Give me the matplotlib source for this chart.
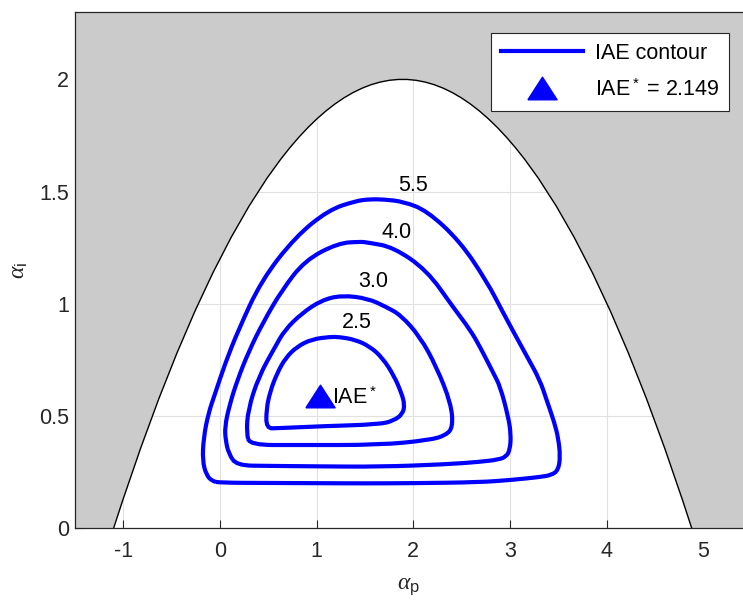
import numpy as np
import matplotlib
matplotlib.use("Agg")
import matplotlib.pyplot as plt
from matplotlib.path import Path
from matplotlib.patches import PathPatch
from matplotlib.lines import Line2D

plt.rcParams['font.family'] = ['Liberation Sans', 'DejaVu Sans']
plt.rcParams['axes.unicode_minus'] = False
plt.rcParams['mathtext.fontset'] = 'custom'
plt.rcParams['mathtext.rm'] = 'Liberation Sans'
plt.rcParams['mathtext.sf'] = 'Liberation Sans'
plt.rcParams['mathtext.it'] = 'Liberation Serif:italic'

# stability boundary: a parabola through the two roots with its apex height
bound_roots = [-1.10, 4.88]
bound_apex = 2.00

# IAE contour levels (closed loops)
levels = ['5.5', '4.0', '3.0', '2.5']
c55_x = [0.00, 0.50, 1.00, 1.50, 2.00, 2.69, 3.03, 3.30, 3.43, 3.50, 3.52, 3.50,
         3.46, 3.38, 3.31, 3.17, 3.03, 2.93, 2.76, 2.48, 2.14, 1.90, 1.70, 1.55,
         1.40, 1.12, 0.78, 0.43, 0.19, 0.05, -0.05, -0.12, -0.17, -0.18, -0.14,
         -0.08]
c55_y = [0.203, 0.202, 0.201, 0.200, 0.201, 0.205, 0.216, 0.228, 0.237, 0.260, 0.320, 0.400,
         0.470, 0.570, 0.660, 0.770, 0.880, 0.960, 1.100, 1.280, 1.415, 1.455, 1.465, 1.466,
         1.458, 1.417, 1.298, 1.105, 0.883, 0.730, 0.600, 0.512, 0.400, 0.300, 0.237,
         0.210]
c40_x = [0.17, 0.50, 1.00, 1.65, 2.34, 2.69, 2.88, 2.96, 3.00, 3.01, 2.98, 2.90,
         2.83, 2.69, 2.59, 2.41, 2.14, 1.79, 1.53, 1.45, 1.22, 0.88, 0.64, 0.45,
         0.30, 0.18, 0.10, 0.05, 0.06, 0.09]
c40_y = [0.280, 0.278, 0.276, 0.274, 0.285, 0.296, 0.306, 0.319, 0.350, 0.420, 0.500, 0.630,
         0.690, 0.808, 0.883, 0.986, 1.150, 1.253, 1.273, 1.277, 1.270, 1.194, 1.060, 0.920,
         0.790, 0.660, 0.550, 0.452, 0.390, 0.334]
c30_x = [0.31, 0.80, 1.65, 2.17, 2.34, 2.41, 2.39, 2.24, 2.07, 1.87, 1.72, 1.53,
         1.26, 1.05, 0.845, 0.67, 0.57, 0.40, 0.29, 0.275]
c30_y = [0.371, 0.371, 0.371, 0.393, 0.415, 0.452, 0.556, 0.719, 0.853, 0.950, 0.986, 1.024,
         1.038, 1.016, 0.957, 0.883, 0.808, 0.675, 0.527, 0.423]
c25_x = [0.48, 0.60, 1.07, 1.65, 1.80, 1.89, 1.91, 1.88, 1.80, 1.68, 1.55, 1.40,
         1.24, 1.14, 0.95, 0.80, 0.68, 0.59, 0.52, 0.48]
c25_y = [0.445, 0.446, 0.455, 0.463, 0.480, 0.510, 0.550, 0.600, 0.680, 0.760, 0.810, 0.840,
         0.852, 0.853, 0.842, 0.810, 0.760, 0.690, 0.610, 0.530]
contours_x = [c55_x, c40_x, c30_x, c25_x]
contours_y = [c55_y, c40_y, c30_y, c25_y]
label_x = [2.00, 1.83, 1.585, 1.414]
label_y = [1.526, 1.316, 1.100, 0.916]

# optimum
opt_x = 1.03
opt_y = 0.59
opt_iae = 2.149

BLUE = '#0000ff'
DARK = '#262626'


def smooth_loop(xs, ys):
    # closed quadratic B-spline path, the read points act as control points
    pts = np.column_stack([xs, ys])
    n = len(pts)
    mids = (pts + np.roll(pts, -1, axis=0)) / 2
    verts = [mids[-1]]
    codes = [Path.MOVETO]
    for i in range(n):
        verts += [pts[i], mids[i]]
        codes += [Path.CURVE3, Path.CURVE3]
    return Path(verts, codes)


W, H = 743, 601
fig = plt.figure(figsize=(W / 100, H / 100), dpi=100)
x0, x1 = -1.5, 5.41
y0, y1 = 0, 2.3
ax_l, ax_r, ax_b, ax_t = 74.9, 743, 528.3, 12
ax = fig.add_axes([ax_l / W, (H - ax_b) / H, (ax_r - ax_l) / W, (ax_b - ax_t) / H])

ax.set_axisbelow(True)
ax.grid(True, color='#e1e1e1', lw=0.8)

# gray region outside the stable parabola
r0, r1 = bound_roots
ctrl = ((r0 + r1) / 2, 2 * bound_apex)
gray = Path([(x0, y0), (r0, y0), ctrl, (r1, y0), (x1, y0), (x1, y1), (x0, y1), (x0, y0)],
            [Path.MOVETO, Path.LINETO, Path.CURVE3, Path.CURVE3, Path.LINETO,
             Path.LINETO, Path.LINETO, Path.CLOSEPOLY])
ax.add_patch(PathPatch(gray, facecolor='#cbcbcb', edgecolor='none', zorder=1))
edge = Path([(r0, y0), ctrl, (r1, y0)], [Path.MOVETO, Path.CURVE3, Path.CURVE3])
ax.add_patch(PathPatch(edge, facecolor='none', edgecolor='black', lw=1.0, zorder=1.5))

for i, (cx, cy) in enumerate(zip(contours_x, contours_y)):
    ax.add_patch(PathPatch(smooth_loop(cx, cy), facecolor='none', edgecolor=BLUE,
                           lw=3.0, zorder=3))
    ax.text(label_x[i], label_y[i], levels[i], fontsize=15.5, ha='center',
            va='center', color='black', zorder=4)

tri = [(-1, -0.775), (1, -0.775), (0, 0.775), (-1, -0.775)]
ax.plot([opt_x], [opt_y], marker=tri, ms=21, color=BLUE, ls='none', zorder=4)
ax.text(opt_x + 0.13, opt_y - 0.01, 'IAE$^*$', fontsize=15.5, ha='left',
        va='center', color='black', zorder=4)

ax.set_xlim(x0, x1)
ax.set_ylim(y0, y1)
ax.set_xticks([-1, 0, 1, 2, 3, 4, 5])
ax.set_yticks([0, 0.5, 1, 1.5, 2])
ax.set_yticklabels(['0', '0.5', '1', '1.5', '2'])
ax.tick_params(direction='in', length=6, width=0.8, colors=DARK,
               labelsize=15.5)
ax.tick_params(axis='x', pad=9.5)
ax.tick_params(axis='y', pad=4)
for s in ['left', 'bottom', 'top']:
    ax.spines[s].set_color(DARK)
    ax.spines[s].set_linewidth(0.9)
    ax.spines[s].set_zorder(5)
ax.spines['right'].set_visible(False)

ax.set_xlabel(r'$\alpha_{\mathrm{p}}$', fontsize=17, color=DARK, labelpad=9)
ax.set_ylabel(r'$\alpha_{\mathrm{i}}$', fontsize=17, color=DARK, labelpad=7)

handles = [Line2D([], [], color=BLUE, lw=3.0),
           Line2D([], [], marker=tri, ms=21, color=BLUE, ls='none')]
labels = ['IAE contour', f'IAE$^*$ = {opt_iae:.3f}']
leg = ax.legend(handles, labels, loc='upper right', bbox_to_anchor=(0.979, 0.959),
                borderaxespad=0, fontsize=15.5, handlelength=3.8,
                handletextpad=0.55, borderpad=0.45, labelspacing=0.72,
                fancybox=False, framealpha=1, edgecolor=DARK)
leg.get_frame().set_linewidth(0.8)
leg.set_zorder(6)

fig.savefig('out.png', dpi=100)
